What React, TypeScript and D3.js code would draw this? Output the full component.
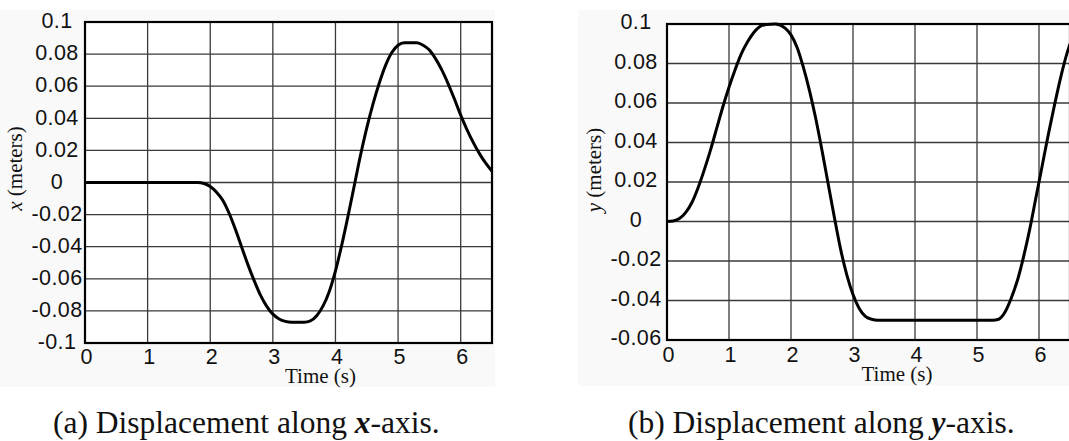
import React from "react";
import * as d3 from "d3";

// Time samples (s) and displacement values (m)
const timeX = [0, 1.8, 1.9, 2.0, 2.1, 2.2, 2.3, 2.4, 2.5, 2.6, 2.7, 2.8, 2.9, 3.0, 3.1, 3.2, 3.3, 3.5, 3.6, 3.7, 3.8, 3.9, 4.0, 4.1, 4.2, 4.3, 4.4, 4.5, 4.6, 4.7, 4.8, 4.9, 5.0, 5.1, 5.3, 5.4, 5.5, 5.6, 5.7, 5.8, 5.9, 6.0, 6.1, 6.2, 6.3, 6.4, 6.5];
const dispX = [0, 0, -0.0006, -0.0025, -0.006, -0.011, -0.019, -0.029, -0.04, -0.051, -0.061, -0.07, -0.077, -0.082, -0.085, -0.0865, -0.087, -0.087, -0.0862, -0.083, -0.077, -0.068, -0.055, -0.039, -0.021, -0.002, 0.017, 0.034, 0.049, 0.062, 0.073, 0.081, 0.0855, 0.087, 0.087, 0.0855, 0.0825, 0.077, 0.07, 0.0615, 0.052, 0.042, 0.033, 0.025, 0.018, 0.012, 0.007];

const timeY = [0, 0.1, 0.2, 0.3, 0.4, 0.5, 0.6, 0.7, 0.8, 0.9, 1.0, 1.1, 1.2, 1.3, 1.4, 1.5, 1.6, 1.75, 1.9, 2.0, 2.1, 2.2, 2.3, 2.4, 2.5, 2.6, 2.7, 2.8, 2.9, 3.0, 3.1, 3.2, 3.3, 3.4, 5.25, 5.35, 5.45, 5.55, 5.65, 5.75, 5.85, 5.95, 6.05, 6.15, 6.25, 6.35, 6.45, 6.5];
const dispY = [0, 0.0003, 0.0015, 0.0045, 0.0095, 0.017, 0.026, 0.036, 0.047, 0.058, 0.068, 0.077, 0.085, 0.091, 0.0957, 0.0987, 0.0998, 0.1, 0.098, 0.0945, 0.088, 0.078, 0.066, 0.052, 0.036, 0.019, 0.002, -0.014, -0.027, -0.037, -0.044, -0.048, -0.0495, -0.05, -0.05, -0.0495, -0.046, -0.039, -0.03, -0.018, -0.004, 0.012, 0.028, 0.044, 0.059, 0.073, 0.085, 0.09];

const timeTicks = [0, 1, 2, 3, 4, 5, 6];
const xTicksA = [0.1, 0.08, 0.06, 0.04, 0.02, 0, -0.02, -0.04, -0.06, -0.08, -0.1];
const xTickLabelsA = ["0.1", "0.08", "0.06", "0.04", "0.02", "0", "-0.02", "-0.04", "-0.06", "-0.08", "-0.1"];
const yTicksB = [0.1, 0.08, 0.06, 0.04, 0.02, 0, -0.02, -0.04, -0.06];
const yTickLabelsB = ["0.1", "0.08", "0.06", "0.04", "0.02", "0", "-0.02", "-0.04", "-0.06"];

const sans = "'Liberation Sans', Arial, Helvetica, sans-serif";
const serif = "'Liberation Serif', 'Times New Roman', serif";

type PanelProps = {
  times: number[];
  values: number[];
  yDomain: [number, number];
  xRange: [number, number];
  yRange: [number, number];
  yTicks: number[];
  yLabels: string[];
  yLabelX: number;
  yLabelDy: number;
  xLabelBaseline: number;
  axisVar: string;
  axisTitleX: number;
  axisTitleY: number;
  timeCenter: number;
  timeBaseline: number;
  bg: [number, number, number, number];
};

function Panel(p: PanelProps) {
  const x = d3.scaleLinear().domain([0, 6.5]).range(p.xRange);
  const y = d3.scaleLinear().domain(p.yDomain).range(p.yRange);
  const pts = p.times.map((t, i) => [t, p.values[i]] as [number, number]);
  const line = d3
    .line<[number, number]>()
    .x((d) => x(d[0]))
    .y((d) => y(d[1]))
    .curve(d3.curveMonotoneX);
  const [x0, x1] = p.xRange;
  const [yb, yt] = p.yRange;
  return (
    <g>
      <rect x={p.bg[0]} y={p.bg[1]} width={p.bg[2]} height={p.bg[3]} fill="#f9f9f9" />
      <rect x={x0} y={yt} width={x1 - x0} height={yb - yt} fill="#ffffff" />
      {timeTicks.slice(1).map((t) => (
        <line key={"v" + t} x1={x(t)} x2={x(t)} y1={yt} y2={yb} stroke="#3a3a3a" strokeWidth={1.3} />
      ))}
      {p.yTicks.map((v) => (
        <line key={"h" + v} x1={x0} x2={x1} y1={y(v)} y2={y(v)} stroke="#3a3a3a" strokeWidth={1.3} />
      ))}
      <rect x={x0} y={yt} width={x1 - x0} height={yb - yt} fill="none" stroke="#000" strokeWidth={2.2} />
      <path d={line(pts) || ""} fill="none" stroke="#000" strokeWidth={3} strokeLinejoin="round" />
      {p.yTicks.map((v, i) => (
        <text key={"yl" + v} x={p.yLabelX} y={y(v) + p.yLabelDy} textAnchor="middle" fontFamily={sans} fontSize={21.5} letterSpacing={0.4} fill="#111">
          {p.yLabels[i]}
        </text>
      ))}
      {timeTicks.map((t) => (
        <text key={"xl" + t} x={x(t) + 1.5} y={p.xLabelBaseline} textAnchor="middle" fontFamily={sans} fontSize={21.5} fill="#111">
          {String(t)}
        </text>
      ))}
      <text x={p.timeCenter} y={p.timeBaseline} textAnchor="middle" fontFamily={serif} fontSize={21} fill="#111">
        Time (s)
      </text>
      <text
        transform={`translate(${p.axisTitleX},${p.axisTitleY}) rotate(-90)`}
        textAnchor="middle"
        fontFamily={serif}
        fontSize={21}
        fill="#111"
      >
        <tspan fontStyle="italic">{p.axisVar}</tspan> (meters)
      </text>
    </g>
  );
}

export default function App() {
  return (
    <svg width={1069} height={441} style={{ position: "absolute", left: 0, top: 0, background: "#fff" }}>
      <Panel
        times={timeX}
        values={dispX}
        yDomain={[-0.1, 0.1]}
        xRange={[85, 492]}
        yRange={[343, 22]}
        yTicks={xTicksA}
        yLabels={xTickLabelsA}
        yLabelX={57}
        yLabelDy={6.2}
        xLabelBaseline={364}
        axisVar="x"
        axisTitleX={22}
        axisTitleY={168.5}
        timeCenter={320.5}
        timeBaseline={382.5}
        bg={[0, 10, 495, 377]}
      />
      <Panel
        times={timeY}
        values={dispY}
        yDomain={[-0.06, 0.1]}
        xRange={[667, 1070]}
        yRange={[340, 24]}
        yTicks={yTicksB}
        yLabels={yTickLabelsB}
        yLabelX={636}
        yLabelDy={5.2}
        xLabelBaseline={362}
        axisVar="y"
        axisTitleX={600.5}
        axisTitleY={170}
        timeCenter={897}
        timeBaseline={380.5}
        bg={[578, 10, 491, 376]}
      />
      <text x={53} y={433} fontFamily={serif} fontSize={31.5} fill="#111">
        (a) Displacement along <tspan fontStyle="italic" fontWeight="bold">x</tspan>-axis.
      </text>
      <text x={628} y={433} fontFamily={serif} fontSize={31.5} fill="#111">
        (b) Displacement along <tspan fontStyle="italic" fontWeight="bold">y</tspan>-axis.
      </text>
    </svg>
  );
}
